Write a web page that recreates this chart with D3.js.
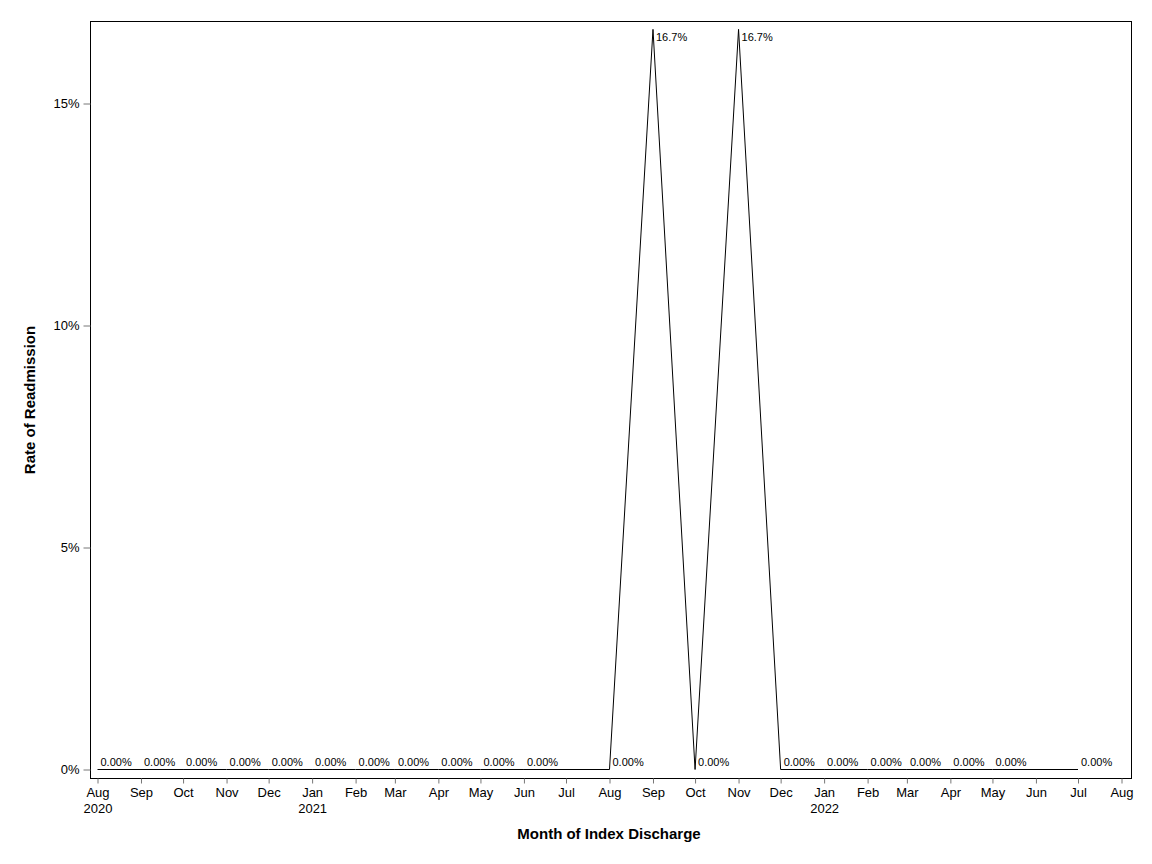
<!DOCTYPE html>
<html>
<head>
<meta charset="utf-8">
<script src="https://cdn.jsdelivr.net/npm/d3@7"></script>
<style>
  body { margin: 0; background: #fff; }
  text { font-family: "Liberation Sans", Arial, sans-serif; }
</style>
</head>
<body>
<div id="chart"></div>
<script>
// months of index discharge (first of month)
const months = [
  "2020-08", "2020-09", "2020-10", "2020-11", "2020-12",
  "2021-01", "2021-02", "2021-03", "2021-04", "2021-05", "2021-06", "2021-07",
  "2021-08", "2021-09", "2021-10", "2021-11", "2021-12",
  "2022-01", "2022-02", "2022-03", "2022-04", "2022-05", "2022-06", "2022-07"
];
// readmission rate, null = no index discharges that month
const rates = [
  0, 0, 0, 0, 0,
  0, 0, 0, 0, 0, 0, null,
  0, 0.1667, 0, 0.1667, 0,
  0, 0, 0, 0, 0, null, 0
];
const yTicks = [0, 0.05, 0.10, 0.15];
const xDomain = ["2020-08", "2022-08"];

const w = 1152;
const h = 864;
const frame = { left: 90.5, right: 1131.5, top: 21.5, bottom: 778.5 };

const parse = d3.timeParse("%Y-%m");
const data = months.map((m, i) => ({ date: parse(m), rate: rates[i] }))
  .filter((d) => d.rate !== null);

const xScale = d3.scaleTime()
  .domain(xDomain.map(parse))
  .range([97.5, 1121.5]);

const yScale = d3.scaleLinear()
  .domain([0, 0.15])
  .range([769.5, 103.5]);

const svg = d3.select("#chart")
  .append("svg")
  .attr("width", w)
  .attr("height", h);

// plot frame
svg.append("rect")
  .attr("x", frame.left)
  .attr("y", frame.top)
  .attr("width", frame.right - frame.left)
  .attr("height", frame.bottom - frame.top)
  .attr("fill", "none")
  .attr("stroke", "#000")
  .attr("stroke-width", 1);

// x axis
const xTicks = d3.timeMonth.range(parse(xDomain[0]), d3.timeDay.offset(parse(xDomain[1]), 1));
const xAxis = d3.axisBottom(xScale)
  .tickValues(xTicks)
  .tickSize(5)
  .tickFormat(d3.timeFormat("%b"));

const gx = svg.append("g")
  .attr("id", "x-axis")
  .attr("transform", `translate(0, ${frame.bottom})`)
  .call(xAxis);
gx.select(".domain").remove();
gx.selectAll(".tick line").attr("stroke", "#777");
gx.selectAll(".tick text")
  .attr("fill", "#000")
  .attr("font-size", 13)
  .attr("dy", "0.71em")
  .attr("y", 9);
gx.selectAll(".tick")
  .filter((d) => d.getMonth() === 0 || +d === +parse(xDomain[0]))
  .append("text")
  .attr("fill", "#000")
  .attr("font-size", 13)
  .attr("text-anchor", "middle")
  .attr("y", 25)
  .attr("dy", "0.71em")
  .text((d) => d.getFullYear());

// y axis
const yAxis = d3.axisLeft(yScale)
  .tickValues(yTicks)
  .tickSize(7)
  .tickPadding(4)
  .tickFormat(d3.format(".0%"));

const gy = svg.append("g")
  .attr("id", "y-axis")
  .attr("transform", `translate(${frame.left}, 0)`)
  .call(yAxis);
gy.select(".domain").remove();
gy.selectAll(".tick line").attr("stroke", "#777");
gy.selectAll(".tick text").attr("fill", "#000").attr("font-size", 13);

// series
const line = d3.line()
  .x((d) => xScale(d.date))
  .y((d) => yScale(d.rate));

svg.append("path")
  .datum(data)
  .attr("d", line)
  .attr("fill", "none")
  .attr("stroke", "#000")
  .attr("stroke-width", 1);

// data labels
const fmt = (v) => (v === 0 ? "0.00%" : d3.format(".1%")(v));
svg.append("g")
  .selectAll("text")
  .data(data)
  .enter()
  .append("text")
  .attr("x", (d) => xScale(d.date) + 3)
  .attr("y", (d) => {
    const py = yScale(d.rate);
    // put the label below the point when it would leave the frame
    return py - 16 < frame.top ? py + 12 : py - 4;
  })
  .attr("font-size", 11)
  .attr("fill", "#000")
  .text((d) => fmt(d.rate));

// axis titles
svg.append("text")
  .attr("x", 609)
  .attr("y", 839)
  .attr("text-anchor", "middle")
  .attr("font-size", 15)
  .attr("font-weight", "bold")
  .text("Month of Index Discharge");

svg.append("text")
  .attr("transform", "translate(35, 400) rotate(-90)")
  .attr("text-anchor", "middle")
  .attr("font-size", 15)
  .attr("font-weight", "bold")
  .text("Rate of Readmission");
</script>
</body>
</html>
